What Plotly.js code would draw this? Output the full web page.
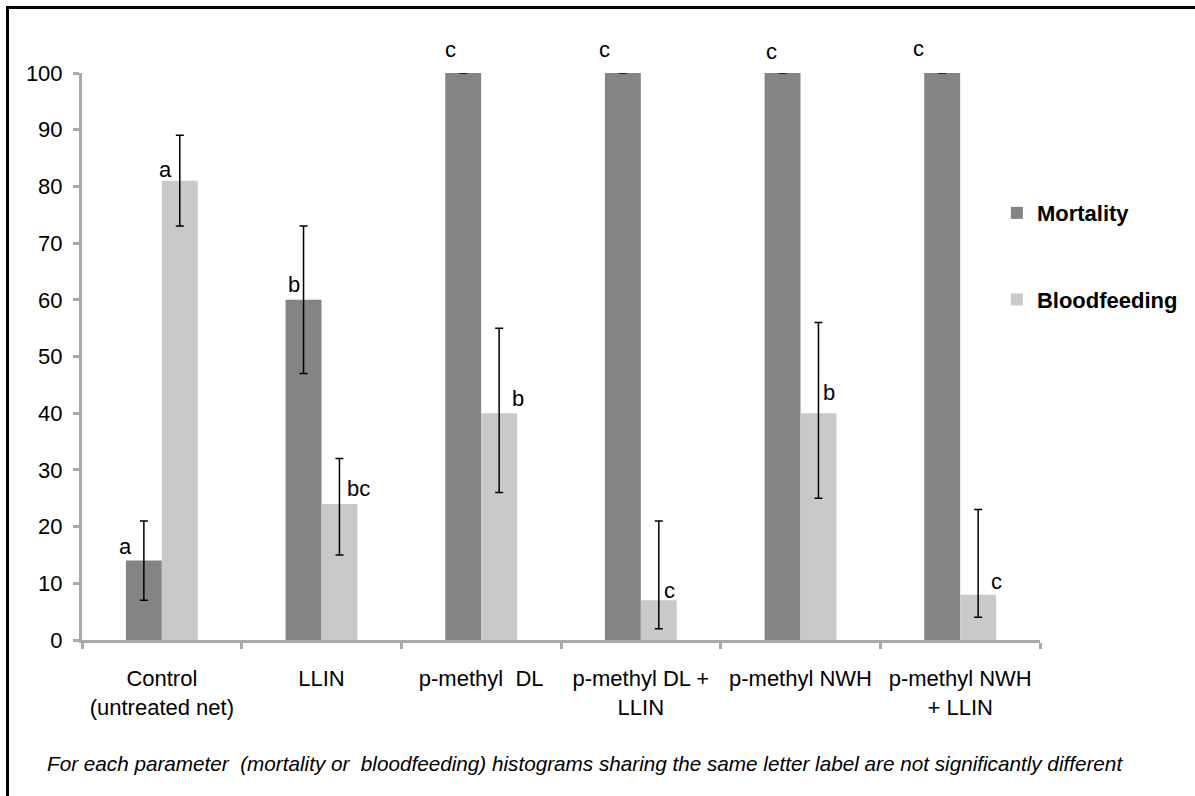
<!DOCTYPE html>
<html>
<head>
<meta charset="utf-8">
<script src="https://cdn.plot.ly/plotly-3.0.1.min.js"></script>
<style>
  html, body { margin: 0; padding: 0; background: #fff; overflow: hidden; }
  #chart { width: 1195px; height: 796px; }
  #frame { position: absolute; left: 6px; top: 6px; width: 1400px; height: 1000px;
           border-left: 3px solid #000; border-top: 3px solid #000; pointer-events: none; }
</style>
</head>
<body>
<div id="chart"></div>
<div id="frame"></div>
<script>
// ---- data ----
const categories = ["Control<br>(untreated net)", "LLIN", "p-methyl\u00a0 DL",
                    "p-methyl DL +<br>LLIN", "p-methyl NWH", "p-methyl NWH<br>+ LLIN"];
const mortality      = [14, 60, 100, 100, 100, 100];
const mortalityUpper = [21, 73, 100, 100, 100, 100];
const mortalityLower = [7, 47, 100, 100, 100, 100];
const bloodfeeding      = [81, 24, 40, 7, 40, 8];
const bloodfeedingUpper = [89, 32, 55, 21, 56, 23];
const bloodfeedingLower = [73, 15, 26, 2, 25, 4];
const mortalityLetters    = ["a", "b", "c", "c", "c", "c"];
const bloodfeedingLetters = ["a", "bc", "b", "c", "b", "c"];
const caption = "For each parameter\u00a0 (mortality or\u00a0 bloodfeeding) histograms sharing the same letter label are not significantly different";

// ---- label placement (pixels relative to bar centre / bar top) ----
const mortLabelDx = [-18.5, -10, -13, -18.5, -11, -24];
const mortLabelDy = [14, 15, 24, 24, 22, 24.5];
const bloodLabelDx = [-14, 19, 18.5, 11, 11, 18.5];
const bloodLabelDy = [11, 15, 15, 9.5, 21, 13.5];

const FONT = "Liberation Sans, Arial, sans-serif";
const bargap = 0.55;
const halfBar = (1 - bargap) / 4; // offset of each bar centre in category units

const traces = [
  {
    type: "bar", name: "Mortality", x: categories, y: mortality,
    marker: { color: "#848484", line: { width: 0 } },
    error_y: {
      type: "data", symmetric: false,
      array: mortalityUpper.map((u, i) => u - mortality[i]),
      arrayminus: mortality.map((v, i) => v - mortalityLower[i]),
      color: "#000", thickness: 1.5, width: 4
    },
    legendgroup: "m"
  },
  {
    type: "bar", name: "Bloodfeeding", x: categories, y: bloodfeeding,
    marker: { color: "#c9c9c9", line: { width: 0 } },
    error_y: {
      type: "data", symmetric: false,
      array: bloodfeedingUpper.map((u, i) => u - bloodfeeding[i]),
      arrayminus: bloodfeeding.map((v, i) => v - bloodfeedingLower[i]),
      color: "#000", thickness: 1.5, width: 4
    },
    legendgroup: "b"
  }
];

const annotations = [];
categories.forEach((c, i) => {
  annotations.push({
    x: i - halfBar, y: mortality[i], xref: "x", yref: "y",
    text: mortalityLetters[i], showarrow: false,
    xanchor: "center", yanchor: "middle",
    xshift: mortLabelDx[i], yshift: mortLabelDy[i],
    font: { family: FONT, size: 22, color: "#000" }
  });
  annotations.push({
    x: i + halfBar, y: bloodfeeding[i], xref: "x", yref: "y",
    text: bloodfeedingLetters[i], showarrow: false,
    xanchor: "center", yanchor: "middle",
    xshift: bloodLabelDx[i], yshift: bloodLabelDy[i],
    font: { family: FONT, size: 22, color: "#000" }
  });
});
annotations.push({
  x: 0.5255, xref: "paper", y: -0.217, yref: "paper",
  text: "<i>" + caption + "</i>", showarrow: false,
  xanchor: "center", yanchor: "middle",
  font: { family: FONT, size: 20.7, color: "#000" }
});

const layout = {
  width: 1195, height: 796,
  margin: { l: 82, r: 152, t: 73, b: 156 },
  paper_bgcolor: "#fff", plot_bgcolor: "#fff",
  font: { family: FONT, size: 22, color: "#000" },
  barmode: "group", bargap: bargap, bargroupgap: 0,
  showlegend: true,
  legend: {
    x: 0.955, xanchor: "left", y: 0.79, yanchor: "top",
    font: { family: FONT, size: 22, color: "#000", weight: "bold" },
    tracegroupgap: 55, traceorder: "grouped", bgcolor: "rgba(0,0,0,0)"
  },
  xaxis: {
    type: "category", showgrid: false, zeroline: false,
    showline: true, linecolor: "#a9a9a9", linewidth: 3,
    ticks: "outside", tickson: "boundaries", ticklen: 6, tickwidth: 3, tickcolor: "#a9a9a9",
    tickfont: { family: FONT, size: 22, color: "#000" },
    ticklabelstandoff: 17, range: [-0.5, 5.5], fixedrange: true
  },
  yaxis: {
    range: [0, 100], dtick: 10, showgrid: false, zeroline: false,
    showline: true, linecolor: "#a9a9a9", linewidth: 3,
    ticks: "outside", ticklen: 6, tickwidth: 3, tickcolor: "#a9a9a9",
    tickfont: { family: FONT, size: 22, color: "#000" },
    ticklabelstandoff: 6, fixedrange: true
  },
  annotations: annotations
};

Plotly.newPlot("chart", traces, layout, { displayModeBar: false, staticPlot: true });
</script>
</body>
</html>
